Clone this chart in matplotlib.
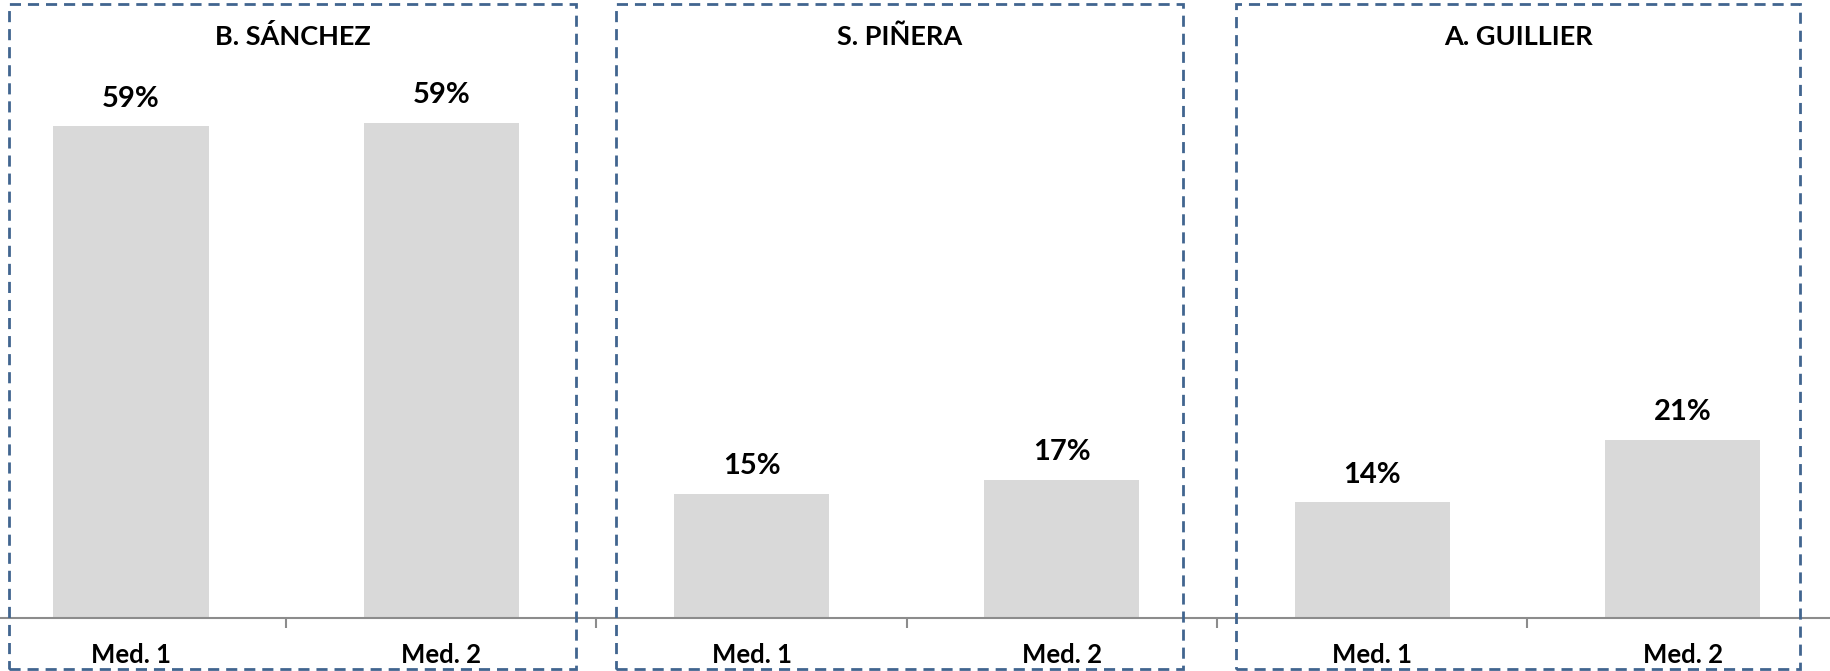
import matplotlib
matplotlib.use("Agg")
import matplotlib.pyplot as plt
from matplotlib.patches import Rectangle
import matplotlib.transforms as mtransforms

# ---- data ----
candidates = ["B. SÁNCHEZ", "S. PIÑERA", "A. GUILLIER"]
measures = ["Med. 1", "Med. 2"]
values = [59.0, 59.4, 14.9, 16.6, 13.9, 21.4]   # percent, order: cand x measure
tick_labels = measures * len(candidates)

# ---- style ----
FONT = "Lato"
BAR_COLOR = "#d9d9d9"
BOX_COLOR = "#41658f"
AXIS_COLOR = "#8c8c8c"

W, H = 1831, 671
fig = plt.figure(figsize=(W / 100, H / 100), dpi=100)

slot = 310.3
left_px = 131 - slot / 2
ax = fig.add_axes([left_px / W, 1 - 618 / H, (6 * slot) / W, 618 / H])

x = list(range(len(values)))
ax.bar(x, values, width=0.5, color=BAR_COLOR, zorder=2)
ax.set_xlim(-0.5, len(values) - 0.5)
ax.set_ylim(0, 59.0 * 618 / 492)

for xi, v in zip(x, values):
    ax.annotate(f"{round(v):d}%", (xi, v), xytext=(0, 14), textcoords="offset points",
                ha="center", va="baseline", fontsize=21, fontweight="bold",
                family=FONT, color="black")

for s in ["top", "right", "left"]:
    ax.spines[s].set_visible(False)
ax.spines["bottom"].set_color(AXIS_COLOR)
ax.spines["bottom"].set_linewidth(1.5)
ax.set_yticks([])
ax.set_xticks(x)
ax.set_xticklabels(tick_labels, fontsize=18.5, fontweight="bold", family=FONT)
ax.tick_params(axis="x", which="major", length=0, pad=18)
ax.set_xticks([i + 0.5 for i in range(-1, len(values))], minor=True)
ax.tick_params(axis="x", which="minor", length=7, width=1.5, color=AXIS_COLOR, direction="out")

# dashed group boxes (data x, figure y)
trans = mtransforms.blended_transform_factory(ax.transData, fig.transFigure)
box_x = [(-0.393, 1.434), (1.563, 3.390), (3.561, 5.379)]
y0, y1 = 1 - 669 / H, 1 - 4 / H
for (bx0, bx1), name in zip(box_x, candidates):
    r = Rectangle((bx0, y0), bx1 - bx0, y1 - y0, transform=trans, fill=False,
                  edgecolor=BOX_COLOR, linewidth=2, linestyle=(0, (4, 2.5)),
                  clip_on=False, zorder=3)
    ax.add_patch(r)
    ax.text((bx0 + bx1) / 2, 1 - 45 / H, name, transform=trans, ha="center",
            va="baseline", fontsize=19.5, fontweight="bold", family=FONT, color="black")

fig.savefig("out.png", dpi=100)
